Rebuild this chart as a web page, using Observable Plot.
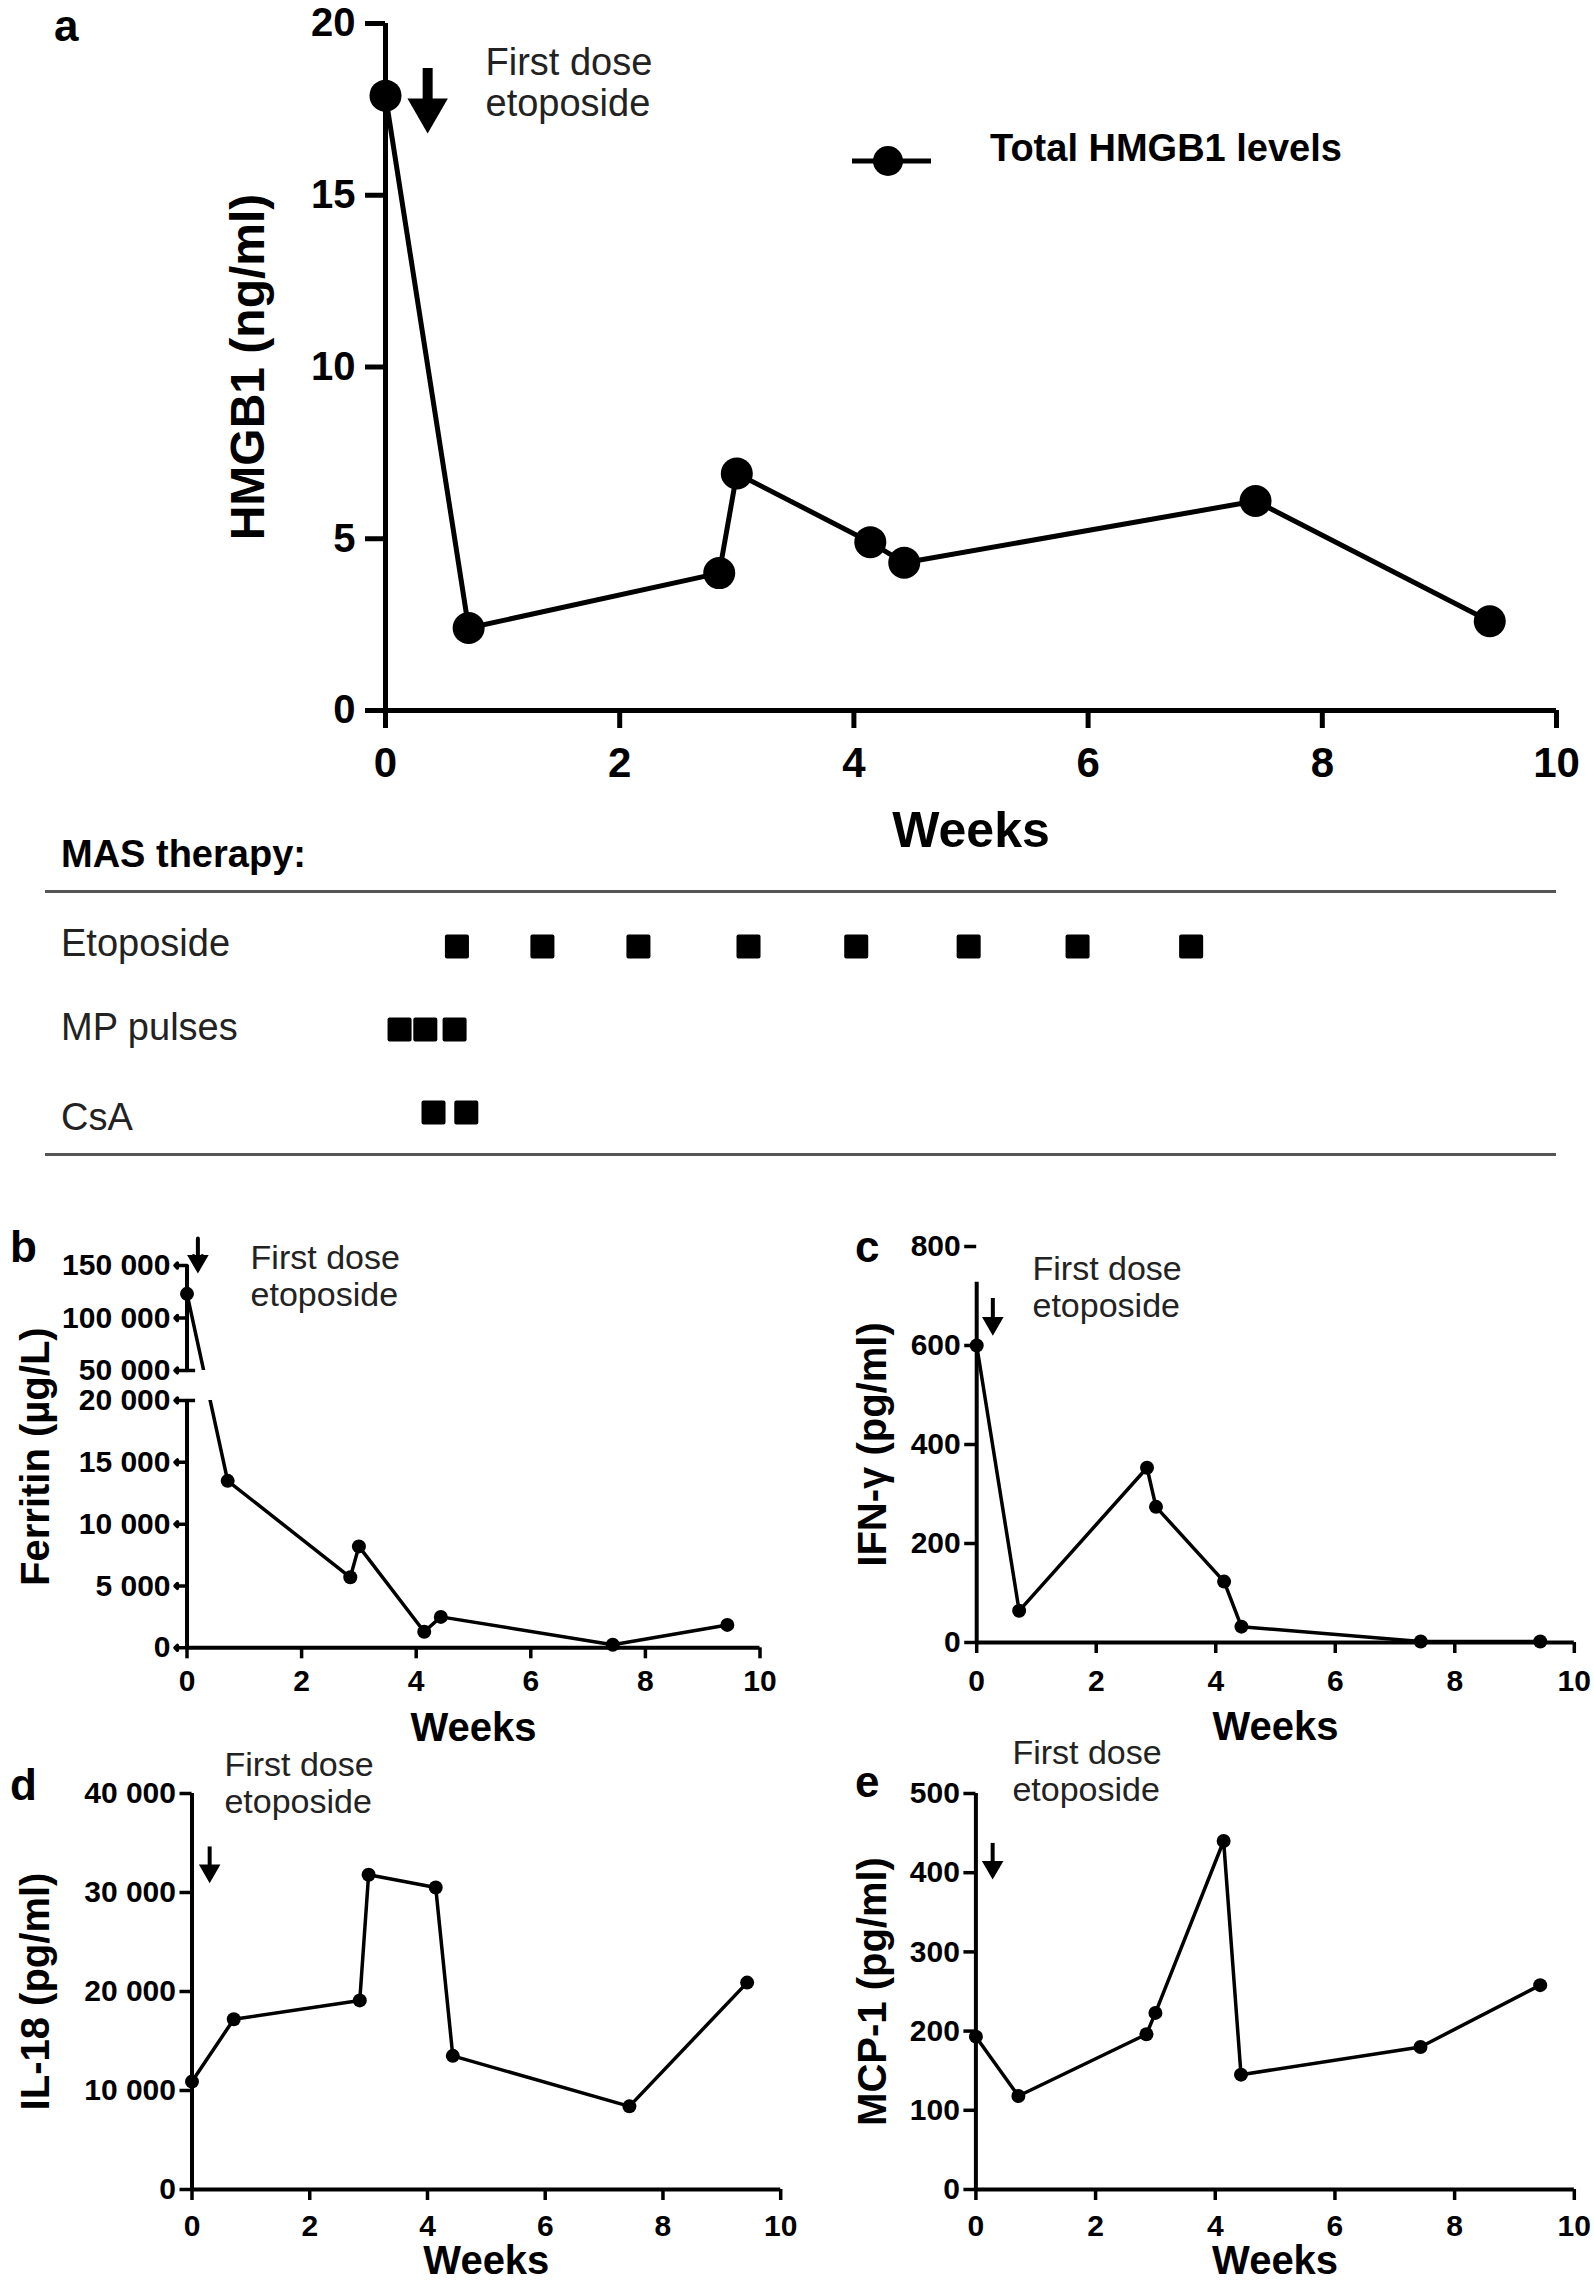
<!DOCTYPE html>
<html><head><meta charset="utf-8">
<script src="https://cdn.jsdelivr.net/npm/d3@7"></script>
<script src="https://cdn.jsdelivr.net/npm/@observablehq/plot@0.6"></script>
<style>
html,body{margin:0;padding:0;background:#fff;}
#fig{position:relative;width:1594px;height:2294px;font-family:"Liberation Sans",Arial,sans-serif;overflow:hidden;background:#fff;}
.abs{position:absolute;line-height:1;white-space:nowrap;}
.abs svg{max-width:none;overflow:visible;display:block;}
.letter{font-weight:bold;font-size:44px;color:#000;}
.row{font-size:38px;color:#222;}
.rule{position:absolute;left:45px;width:1511px;height:3px;background:#555;}
</style></head><body><div id="fig"></div>
<script>
// ---------------- data ----------------
const weeks = [0, 0.71, 2.85, 3.0, 4.14, 4.43, 7.43, 9.43];
const hmgb1 = [17.9, 2.4, 4.0, 6.9, 4.9, 4.3, 6.1, 2.6];
const ferritin = [123000, 13500, 5700, 8200, 1300, 2500, 250, 1850];
const ifng = [600, 64, 353, 274, 123, 32, 2, 2];
const il18 = [10900, 17200, 19100, 31800, 30500, 13500, 8400, 20900];
const mcp1 = [193, 118, 196, 223, 440, 145, 180, 258];

const weekTicks = [0, 2, 4, 6, 8, 10];
const hmgb1Ticks = [0, 5, 10, 15, 20];
const ferritinTicks = [0, 5000, 10000, 15000, 20000, 50000, 100000, 150000];
const ferritinBreak = [20000, 50000];
const ferritinSegments = [[0, 20000], [50000, 150000]];
const ifngTicks = [0, 200, 400, 600, 800];
const il18Ticks = [0, 10000, 20000, 30000, 40000];
const mcp1Ticks = [0, 100, 200, 300, 400, 500];

const therapyRows = ["Etoposide", "MP pulses", "CsA"];
const etoposideWeeks = [0.61, 1.34, 2.16, 3.10, 4.02, 4.98, 5.91, 6.88];
const mpPulseWeeks = [0.12, 0.34, 0.59];
const csaWeeks = [0.41, 0.69];

// annotations ("First dose etoposide" arrow and note)
const noteText = "First dose\netoposide";
const arrowA = [{week: 0.36, top: 18.69, head: 17.48}];
const noteA = [{week: 0.854, value: 19.36}];
const arrowB = [{week: 0.19}];
const noteB = [{week: 1.11}];
const arrowC = [{week: 0.27, top: 695, head: 645}];
const noteC = [{week: 0.934, value: 786}];
const arrowD = [{week: 0.30, top: 34600, head: 32200}];
const noteD = [{week: 0.55, value: 44450}];
const arrowE = [{week: 0.28, top: 437, head: 407}];
const noteE = [{week: 0.61, value: 571}];

// ---------------- helpers ----------------
const FONT = '"Liberation Sans", Arial, Helvetica, sans-serif';
const fig = document.getElementById("fig");
const spaced = d => d3.format(",")(d).replace(/,/g, " ");
function place(node, left, top) {
  const div = document.createElement("div");
  div.className = "abs";
  div.style.left = left + "px";
  div.style.top = top + "px";
  div.appendChild(node);
  fig.appendChild(div);
  return div;
}
function html(text, cls, left, top, extra) {
  const div = document.createElement("div");
  div.className = "abs " + cls;
  div.style.left = left + "px";
  div.style.top = top + "px";
  if (extra) Object.assign(div.style, extra);
  div.textContent = text;
  fig.appendChild(div);
}
const svgStyle = {fontFamily: FONT, overflow: "visible", maxWidth: "none", background: "transparent"};

// ---------------- panel a ----------------
const dataA = weeks.map((w, i) => ({week: w, value: hmgb1[i]}));
const plotA = Plot.plot({
  width: 1594, height: 880,
  marginLeft: 385, marginRight: 38, marginTop: 23, marginBottom: 170,
  x: {domain: [0, 10]}, y: {domain: [0, 20]},
  style: svgStyle,
  marks: [
    Plot.ruleX([0], {y1: 0, y2: 20, strokeWidth: 5}),
    Plot.ruleY([0], {x1: 0, x2: 10, strokeWidth: 5}),
    Plot.axisY({ticks: hmgb1Ticks, tickSize: 20, tickPadding: 10, fontSize: 40, fontWeight: "bold", strokeWidth: 5, label: null}),
    Plot.axisX({ticks: weekTicks, tickSize: 18, tickPadding: 19, fontSize: 42, fontWeight: "bold", strokeWidth: 5, label: null}),
    Plot.line(dataA, {x: "week", y: "value", stroke: "black", strokeWidth: 5}),
    Plot.dot(dataA, {x: "week", y: "value", r: 16, fill: "black"}),
    Plot.ruleX(arrowA, {x: "week", y1: "top", y2: "head", strokeWidth: 10}),
    Plot.dot(arrowA, {x: "week", y: "head", symbol: "triangle", rotate: 180, r: 15, fill: "black"}),
    Plot.text(noteA, {x: "week", y: "value", text: () => noteText, textAnchor: "start", lineAnchor: "top", fontSize: 38, lineHeight: 1.08, fill: "#222"}),
    Plot.text(["Weeks"], {frameAnchor: "bottom", dy: 120, text: d => d, textAnchor: "middle", lineAnchor: "middle", fontSize: 50, fontWeight: "bold"}),
    Plot.text(["HMGB1 (ng/ml)"], {frameAnchor: "left", dx: -137, text: d => d, rotate: -90, textAnchor: "middle", lineAnchor: "middle", fontSize: 48, fontWeight: "bold"})
  ]
});
place(plotA, 0, 0);

// legend of panel a
const leg = d3.create("svg").attr("width", 80).attr("height", 32);
leg.append("line").attr("x1", 0).attr("x2", 79).attr("y1", 16).attr("y2", 16).attr("stroke", "black").attr("stroke-width", 5);
leg.append("circle").attr("cx", 36).attr("cy", 16).attr("r", 15).attr("fill", "black");
place(leg.node(), 852, 145);
html("Total HMGB1 levels", "", 990, 129, {fontSize: "38px", fontWeight: "bold"});

// ---------------- therapy table ----------------
html("MAS therapy:", "", 61, 835, {fontSize: "38px", fontWeight: "bold"});
const r1 = document.createElement("div"); r1.className = "rule"; r1.style.top = "890px"; fig.appendChild(r1);
const r2 = document.createElement("div"); r2.className = "rule"; r2.style.top = "1153px"; fig.appendChild(r2);
html(therapyRows[0], "row", 61, 924);
html(therapyRows[1], "row", 61, 1008);
html(therapyRows[2], "row", 61, 1098);
const therapy = [
  ...etoposideWeeks.map(w => ({drug: therapyRows[0], week: w})),
  ...mpPulseWeeks.map(w => ({drug: therapyRows[1], week: w})),
  ...csaWeeks.map(w => ({drug: therapyRows[2], week: w}))
];
const plotT = Plot.plot({
  width: 1594, height: 240,
  marginLeft: 385, marginRight: 38, marginTop: 0, marginBottom: 0,
  x: {domain: [0, 10], axis: null},
  y: {type: "point", domain: therapyRows, range: [45, 212], padding: 0, axis: null},
  style: svgStyle,
  marks: [
    Plot.dot(therapy, {x: "week", y: "drug", symbol: "square", r: 11.3, fill: "black", stroke: "black", strokeWidth: 4, strokeLinejoin: "round"})
  ]
});
place(plotT, 0, 900);

// ---------------- small panels (c, d, e) ----------------
function smallPanel(o) {
  const data = weeks.map((w, i) => ({week: w, value: o.values[i]}));
  const marks = [
    Plot.line(data, {x: "week", y: "value", stroke: "black", strokeWidth: 3.5}),
    Plot.dot(data, {x: "week", y: "value", r: 7, fill: "black"})
  ];
  for (const seg of o.segments) marks.push(Plot.ruleX([0], {y1: seg[0], y2: seg[1], strokeWidth: 4}));
  marks.push(
    Plot.ruleY([0], {x1: 0, x2: 10, strokeWidth: 4}),
    Plot.axisY({ticks: o.ticks, tickFormat: spaced, tickSize: 12, tickPadding: o.tickPadY, fontSize: 30, fontWeight: "bold", strokeWidth: 3.5, label: null}),
    Plot.axisX({ticks: weekTicks, tickSize: 11, tickPadding: o.tickPadX, fontSize: 30, fontWeight: "bold", strokeWidth: 3.5, label: null}),
    Plot.ruleX(o.arrow, {x: "week", y1: "top", y2: "head", strokeWidth: 4}),
    Plot.dot(o.arrow, {x: "week", y: "head", symbol: "triangle", rotate: 180, r: 8, fill: "black"}),
    Plot.text(o.note, {x: "week", y: "value", text: () => noteText, textAnchor: "start", lineAnchor: "top", fontSize: 34, lineHeight: 1.1, fill: "#222"}),
    Plot.text(["Weeks"], {frameAnchor: "bottom", dy: o.weeksDy, text: d => d, textAnchor: "middle", lineAnchor: "middle", fontSize: 40, fontWeight: "bold"}),
    Plot.text([o.title], {frameAnchor: "left", dx: o.titleDx, text: d => d, rotate: -90, textAnchor: "middle", lineAnchor: "middle", fontSize: 40, fontWeight: "bold"})
  );
  const plot = Plot.plot({
    width: o.width, height: o.height,
    marginLeft: o.ml, marginRight: o.mr, marginTop: o.mt, marginBottom: o.mb,
    x: {domain: [0, 10]},
    y: o.y,
    style: svgStyle,
    marks
  });
  place(plot, o.left, o.top);
}

// ---------------- b: Ferritin with a broken y axis ----------------
// scale transform folding the 20 000–50 000 break into a short gap
const breakGap = 2426;        // transformed units used by the axis break
const upperRatio = 0.0849;    // compression of the upper (50 000–150 000) segment
function foldFerritin(v) {
  const [lo, hi] = ferritinBreak;
  if (v <= lo) return v;
  if (v >= hi) return lo + breakGap + (v - hi) * upperRatio;
  return lo + (v - lo) / (hi - lo) * breakGap;
}
{
  const data = weeks.map((w, i) => ({week: w, value: ferritin[i]}));
  const plotB = Plot.plot({
    width: 797, height: 560,
    marginLeft: 186.5, marginRight: 37.5, marginTop: 65, marginBottom: 112.7,
    x: {domain: [0, 10]},
    y: {transform: foldFerritin, axis: null},
    style: svgStyle,
    marks: [
      Plot.line(data, {x: "week", y: "value", stroke: "black", strokeWidth: 3.5}),
      Plot.dot(data, {x: "week", y: "value", r: 7, fill: "black"}),
      Plot.rect([ferritinBreak], {x1: 0, x2: 10, y1: d => d[0], y2: d => d[1], fill: "white"}),
      Plot.ruleX(ferritinSegments, {x: 0, y1: d => d[0], y2: d => d[1], strokeWidth: 4}),
      Plot.ruleY(ferritinBreak, {x1: 0, x2: 0.15, strokeWidth: 3.5}),
      Plot.vector(ferritinTicks, {x: 0, y: d => d, length: 12, rotate: -90, anchor: "start", strokeWidth: 3.5, stroke: "black"}),
      Plot.text(ferritinTicks, {y: d => d, frameAnchor: "left", dx: -16.5, text: spaced, textAnchor: "end", lineAnchor: "middle", fontSize: 30, fontWeight: "bold"}),
      Plot.ruleY([0], {x1: 0, x2: 10, strokeWidth: 4}),
      Plot.axisX({ticks: weekTicks, tickSize: 11, tickPadding: 11, fontSize: 30, fontWeight: "bold", strokeWidth: 3.5, label: null}),
      Plot.vector(arrowB, {x: "week", frameAnchor: "top", dy: -27, length: 22, rotate: 180, anchor: "start", strokeWidth: 4, stroke: "black"}),
      Plot.dot(arrowB, {x: "week", frameAnchor: "top", dy: -4.4, symbol: "triangle", rotate: 180, r: 8, fill: "black"}),
      Plot.text(noteB, {x: "week", frameAnchor: "top", dy: -23, text: () => noteText, textAnchor: "start", lineAnchor: "top", fontSize: 34, lineHeight: 1.1, fill: "#222"}),
      Plot.text(["Weeks"], {frameAnchor: "bottom", dy: 80, text: d => d, textAnchor: "middle", lineAnchor: "middle", fontSize: 40, fontWeight: "bold"}),
      Plot.text(["Ferritin (µg/L)"], {frameAnchor: "left", dx: -151, text: d => d, rotate: -90, textAnchor: "middle", lineAnchor: "middle", fontSize: 40, fontWeight: "bold"})
    ]
  });
  place(plotB, 0, 1200);
}

// c: IFN-γ
smallPanel({
  left: 797, top: 1200, width: 797, height: 560, ml: 179.2, mr: 20.2, mt: 46, mb: 118,
  y: {domain: [0, 800]},
  values: ifng, ticks: ifngTicks, segments: [[0, 728]],
  tickPadY: 4, tickPadX: 16, weeksDy: 85,
  arrow: arrowC, note: noteC, title: "IFN-γ (pg/ml)", titleDx: -104
});
// d: IL-18
smallPanel({
  left: 0, top: 1700, width: 797, height: 594, ml: 191.5, mr: 16.8, mt: 93, mb: 105,
  y: {domain: [0, 40000]},
  values: il18, ticks: il18Ticks, segments: [[0, 40000]],
  tickPadY: 4, tickPadX: 14, weeksDy: 72,
  arrow: arrowD, note: noteD, title: "IL-18 (pg/ml)", titleDx: -156
});
// e: MCP-1
smallPanel({
  left: 797, top: 1700, width: 797, height: 594, ml: 178.4, mr: 20.2, mt: 93, mb: 105,
  y: {domain: [0, 500]},
  values: mcp1, ticks: mcp1Ticks, segments: [[0, 500]],
  tickPadY: 4, tickPadX: 14, weeksDy: 72,
  arrow: arrowE, note: noteE, title: "MCP-1 (pg/ml)", titleDx: -103
});

// panel letters
html("a", "letter", 54, 4);
html("b", "letter", 10, 1225);
html("c", "letter", 855, 1225);
html("d", "letter", 10, 1763);
html("e", "letter", 855, 1760);
</script></body></html>
